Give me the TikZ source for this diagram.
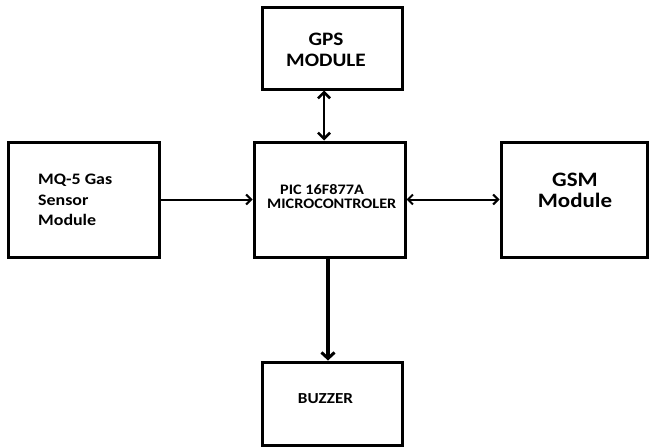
\documentclass[tikz,border=0pt]{standalone}
\usepackage{fontspec}
\setmainfont{Carlito}[FakeStretch=1.12]
\usetikzlibrary{arrows.meta}
\begin{document}
\begin{tikzpicture}[x=1pt,y=-1pt,
  blk/.style={draw=black,line width=3pt,inner sep=0pt},
  lbl/.style={inner sep=0pt,align=center},
  arr/.style={line width=2pt,-{Straight Barb[length=5pt,width=10pt,line width=2pt]}},
  darr/.style={line width=2pt,{Straight Barb[length=5pt,width=10pt,line width=2pt]}-{Straight Barb[length=5pt,width=10pt,line width=2pt]}},
  thick arr/.style={line width=3.4pt,-{Straight Barb[length=6pt,width=13pt,line width=3pt]}},
  thick darr/.style={line width=2.8pt,{Straight Barb[length=6pt,width=12pt,line width=2.6pt]}-{Straight Barb[length=6pt,width=12pt,line width=2.6pt]}}]
\useasboundingbox (0,0) rectangle (649,447);
\fill[white] (0,0) rectangle (649,447);
% boxes
\node[blk,minimum width=140pt,minimum height=82pt] (gps) at (332,48) {};
\node[blk,minimum width=151pt,minimum height=115pt] (mcu) at (329.5,199.5) {};
\node[blk,minimum width=151pt,minimum height=115pt] (mq) at (83.5,199.5) {};
\node[blk,minimum width=146pt,minimum height=115pt] (gsm) at (574,199.5) {};
\node[blk,minimum width=140pt,minimum height=83pt] (buz) at (332,403.5) {};
% texts
\node[lbl,font=\fontsize{19}{20.5}\selectfont\bfseries] (gpstxt) at (326,50) {GPS\\MODULE};
\node[lbl,align=left,anchor=west,font=\fontsize{14.5}{14}\selectfont\bfseries] (mcutxt) at (267,196.5) {\hspace*{13pt}PIC 16F877A\\MICROCONTROLER};
\node[lbl,align=left,anchor=west,font=\fontsize{16}{20.5}\selectfont\bfseries] (mqtxt) at (38,200) {MQ-5 Gas\\Sensor\\Module};
\node[lbl,font=\fontsize{20.5}{21}\selectfont\bfseries] (gsmtxt) at (575,190.5) {GSM\\Module};
\node[lbl,font=\fontsize{15.3}{18}\selectfont\bfseries] (buztxt) at (325.5,399) {BUZZER};
% connectors
\coordinate (ax) at (324,0);
\coordinate (bx) at (328,0);
\draw[thick darr] (gps.south -| ax) -- (mcu.north -| ax);
\draw[arr] (mq.east) -- (mcu.west);
\draw[darr] (mcu.east) -- (gsm.west);
\draw[thick arr] (mcu.south -| bx) -- (buz.north -| bx);
\end{tikzpicture}
\end{document}
